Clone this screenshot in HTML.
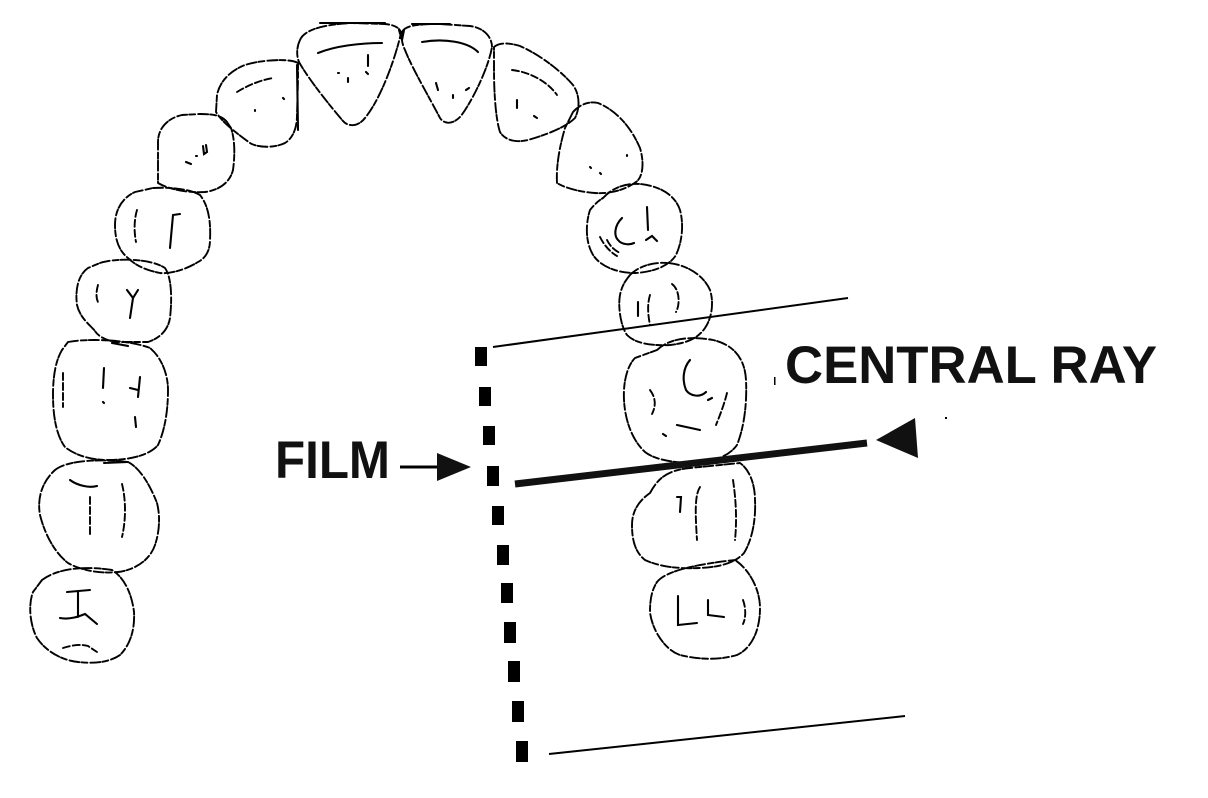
<!DOCTYPE html>
<html>
<head>
<meta charset="utf-8">
<style>
  html,body{margin:0;padding:0;background:#fff;}
  body{width:1208px;height:798px;overflow:hidden;}
  svg{display:block;}
  .t{fill:none;stroke:#000;stroke-width:1.9;stroke-dasharray:10 3 6 2;stroke-linecap:round;stroke-linejoin:round;}
  .m{fill:none;stroke:#000;stroke-width:1.9;stroke-dasharray:7 3;stroke-linecap:round;}
  .s{fill:none;stroke:#000;stroke-width:2.1;stroke-linecap:round;}
  .lbl{font-family:"Liberation Sans",Arial,sans-serif;font-weight:bold;font-size:53px;fill:#111;}
</style>
</head>
<body>
<svg width="1208" height="798" viewBox="0 0 1208 798" xmlns="http://www.w3.org/2000/svg">
  <rect width="1208" height="798" fill="#fff"/>

  <!-- Central incisor L -->
  <path class="t" d="M300,40 C305,28 330,24 352,23 L385,24 C395,25 400,28 401,33 C395,60 380,100 365,118 C358,127 348,127 343,121 C325,100 306,75 299,62 C296,55 297,46 300,40 Z"/>
  <path class="s" d="M318,53 C335,46 360,43 382,43"/>
  <path class="s" d="M368,55 L368,66 M366,72 l2,2 M348,78 l0,4 M338,73 l1,0"/>
  <path class="s" d="M320,23 L385,23" stroke-width="2.6"/>

  <!-- Central incisor R -->
  <path class="t" d="M402,32 C405,26 415,24 440,24 L470,26 C485,28 492,38 492,47 C488,70 470,105 460,117 C452,125 444,124 440,118 C428,95 412,68 405,50 C402,44 401,37 402,32 Z"/>
  <path class="s" d="M412,24 L450,24" stroke-width="3"/>
  <path class="s" d="M422,42 C445,38 468,42 478,52"/>
  <path class="s" d="M436,83 L438,90 M453,95 l0,3 M466,90 l3,-2"/>
  <path class="s" d="M399,30 L402,40 L404,30"/>

  <!-- Lateral incisor L -->
  <path class="t" d="M298,63 C290,58 260,60 245,65 C232,70 220,80 217,95 L216,112 C222,122 235,132 250,143 C258,148 275,148 285,143 C293,138 297,128 297,115 L298,80 Z"/>
  <path class="m" d="M237,92 C250,84 262,80 273,78"/>
  <path class="s" d="M283,98 l1,1 M255,110 l0,1"/>
  <path class="s" d="M297,65 L298,130" stroke-width="2.4"/>

  <!-- Lateral incisor R -->
  <path class="t" d="M494,47 C500,42 510,43 520,46 C540,55 560,70 573,85 C580,95 580,108 575,118 C565,128 545,135 528,140 C515,143 505,140 500,132 C496,120 494,95 494,70 Z"/>
  <path class="m" d="M512,70 C530,72 548,82 557,95"/>
  <path class="s" d="M517,100 l0,8 M534,116 l3,2"/>

  <!-- Canine L -->
  <path class="t" d="M227,122 C222,116 215,114 200,114 L182,115 C168,118 158,128 158,142 L158,183 C170,190 190,193 205,192 C220,190 230,182 233,170 C235,155 235,140 231,128 Z"/>
  <path class="s" d="M203,146 l1,8 l3,-2 l-1,-7 M186,162 l5,2 M196,156 l1,0"/>

  <!-- Canine R -->
  <path class="t" d="M573,112 C580,104 590,101 598,103 C615,110 630,125 640,148 C645,165 642,178 636,182 C625,190 610,194 595,193 C580,192 565,188 557,183 C556,165 560,145 565,128 Z"/>
  <path class="s" d="M590,167 l1,1 M600,173 l1,1 M627,155 l0,1"/>

  <!-- Premolar L1 -->
  <path class="t" d="M153,188 C170,187 190,189 200,195 C208,205 211,220 210,240 C210,250 206,258 198,262 C185,270 170,274 160,273 C145,270 135,265 128,258 C118,250 115,238 115,225 C115,210 122,198 135,192 Z"/>
  <path class="m" d="M137,210 C134,220 134,232 136,242"/>
  <path class="s" d="M170,248 L173,215 L180,214"/>

  <!-- Premolar R1 -->
  <path class="t" d="M603,198 C612,188 625,183 640,184 C660,186 675,195 680,210 C684,225 682,242 676,255 C670,265 655,272 635,273 C615,273 598,265 592,253 C585,240 586,222 590,210 C594,205 598,201 603,198 Z"/>
  <path class="s" d="M622,218 C614,226 614,236 618,240 C622,245 630,245 634,243 M647,207 L648,230 M646,240 l6,-4 l5,5"/>
  <path class="m" d="M600,237 C604,245 610,252 617,256 M607,240 C610,246 614,250 620,253"/>

  <!-- Premolar L2 -->
  <path class="t" d="M100,263 C115,258 150,258 165,268 C172,278 172,300 170,318 C168,330 160,338 148,342 L115,342 C105,340 98,336 95,331 C90,325 80,318 77,305 C75,290 78,275 88,268 Z"/>
  <path class="m" d="M98,285 C96,292 96,298 98,302"/>
  <path class="s" d="M127,290 L133,298 L138,290 M133,298 L130,318"/>

  <!-- Premolar R2 -->
  <path class="t" d="M630,275 C640,265 655,262 668,263 C690,265 705,278 710,290 C714,302 712,318 705,328 C698,338 688,343 670,345 C650,346 635,343 627,335 C620,325 618,305 620,295 C622,285 626,280 630,275 Z"/>
  <path class="s" d="M638,302 L638,316"/>
  <path class="m" d="M650,295 C647,305 648,315 650,325 M672,284 C680,290 680,305 676,312"/>

  <!-- Molar L1 -->
  <path class="t" d="M68,342 C90,338 130,340 150,348 C162,358 168,375 168,390 C168,410 165,430 158,445 C150,455 130,460 108,460 C90,460 75,455 65,447 C56,435 53,415 53,395 C53,375 56,360 62,350 Z"/>
  <path class="m" d="M63,373 L63,407"/>
  <path class="s" d="M104,368 L103,388 M103,402 l1,1 M140,377 L138,397 M130,388 L138,390 M135,417 L136,427"/>
  <path class="s" d="M112,343 L128,346" stroke-width="3"/>

  <!-- Molar L2 -->
  <path class="t" d="M55,470 C65,462 90,458 128,462 C140,468 150,485 157,503 C160,515 160,530 155,545 C150,560 135,570 118,572 C100,574 80,570 68,563 C55,553 45,535 40,515 C37,498 42,482 55,470 Z"/>
  <path class="s" d="M70,480 C78,486 90,488 97,486"/>
  <path class="m" d="M90,497 L90,537 M122,484 C126,500 126,520 122,537"/>
  <path class="s" d="M104,463 L128,462" stroke-width="3"/>

  <!-- Molar L3 -->
  <path class="t" d="M42,580 C55,570 80,565 112,570 C125,578 132,595 134,612 C135,630 130,645 120,655 C110,662 95,664 78,662 C60,660 45,650 37,638 C30,625 28,605 33,592 Z"/>
  <path class="s" d="M67,592 L90,590 M78,592 L78,617 M60,618 C70,620 80,616 85,614 L97,624"/>
  <path class="m" d="M63,648 C72,645 82,644 88,646 L97,652"/>

  <!-- Molar R1 -->
  <path class="t" d="M657,350 C670,338 690,336 713,340 C735,345 745,360 746,380 C747,400 745,425 737,445 C730,455 715,462 695,463 C675,463 655,460 645,452 C632,440 625,420 624,400 C623,380 628,365 635,358 Z"/>
  <path class="s" d="M690,360 C683,368 682,380 686,390 C690,396 700,398 706,392 M708,400 l4,-2 M677,425 L700,430 M663,434 l3,2"/>
  <path class="m" d="M650,390 C656,398 656,406 652,414 M727,393 C724,405 720,415 716,425"/>

  <!-- Molar R2 -->
  <path class="t" d="M650,493 C658,478 668,470 690,468 L740,463 C750,470 755,485 755,500 C756,520 752,540 744,553 C735,563 720,567 700,568 C680,569 660,567 645,560 C635,552 632,540 632,525 C632,510 640,500 650,493 Z"/>
  <path class="s" d="M677,497 L681,497 L680,512"/>
  <path class="m" d="M700,487 C695,495 695,510 697,540 M733,480 C736,500 737,520 735,540"/>

  <!-- Molar R3 -->
  <path class="t" d="M657,582 C665,572 690,565 735,560 C750,570 760,590 760,608 C760,630 752,648 737,655 C720,660 700,660 680,655 C665,650 652,630 650,612 C650,598 652,590 657,582 Z"/>
  <path class="s" d="M678,596 L678,625 L697,623 M708,600 L708,615 L724,617"/>
  <path class="m" d="M743,600 C746,608 746,618 743,624"/>

  <!-- Thin boundary lines -->
  <line x1="493" y1="347" x2="848" y2="298" stroke="#000" stroke-width="2"/>
  <line x1="549" y1="754" x2="905" y2="716" stroke="#000" stroke-width="2"/>

  <!-- Central ray -->
  <line x1="515" y1="484" x2="867" y2="443" stroke="#111" stroke-width="7"/>
  <polygon points="876,440 915,418 918,458" fill="#111"/>

  <!-- Film dashes -->
  <g fill="#000">
    <rect x="475" y="347" width="12" height="19"/>
    <rect x="479" y="387" width="12" height="19"/>
    <rect x="483" y="426" width="12" height="19"/>
    <rect x="487" y="466" width="12" height="20"/>
    <rect x="492" y="506" width="12" height="19"/>
    <rect x="497" y="545" width="12" height="20"/>
    <rect x="501" y="583" width="12" height="20"/>
    <rect x="504" y="622" width="12" height="21"/>
    <rect x="508" y="661" width="12" height="21"/>
    <rect x="512" y="701" width="12" height="21"/>
    <rect x="516" y="741" width="12" height="21"/>
  </g>

  <!-- FILM arrow -->
  <line x1="400" y1="467" x2="440" y2="467" stroke="#000" stroke-width="3"/>
  <polygon points="437,453 437,481 471,467" fill="#111"/>

  <!-- Labels -->
  <text class="lbl" x="275" y="478" textLength="115" lengthAdjust="spacingAndGlyphs">FILM</text>
  <text class="lbl" x="785" y="383" textLength="372" lengthAdjust="spacingAndGlyphs">CENTRAL RAY</text>

  <!-- small specks -->
  <rect x="774" y="377" width="1.5" height="8" fill="#000"/>
  <rect x="945" y="417" width="2" height="2" fill="#000"/>
</svg>
</body>
</html>
